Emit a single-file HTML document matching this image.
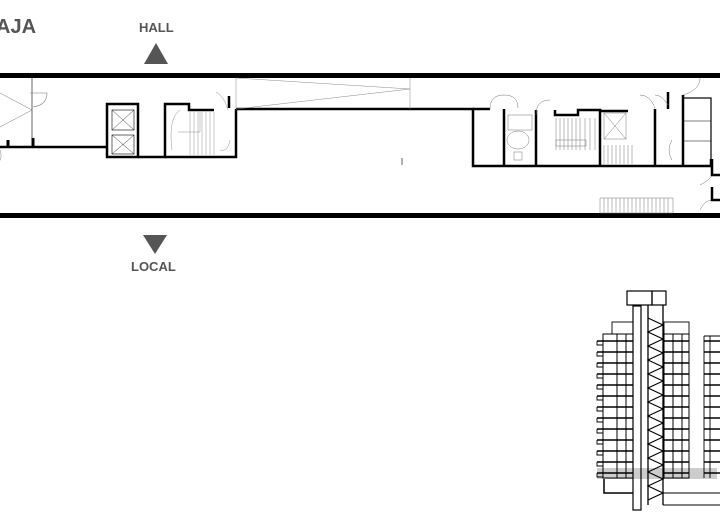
<!DOCTYPE html>
<html><head><meta charset="utf-8"><style>
html,body{margin:0;padding:0;background:#fff;width:720px;height:532px;overflow:hidden}
svg{display:block}
text{font-family:"Liberation Sans",sans-serif;font-weight:bold;fill:#555}
</style></head><body>
<svg width="720" height="532" viewBox="0 0 720 532" xmlns="http://www.w3.org/2000/svg">
<text x="-4" y="33" font-size="20">AJA</text>
<text x="139" y="32" font-size="13">HALL</text>
<polygon points="144,64 168,64 156,43" fill="#555"/>
<polygon points="143,235 167,235 155,254" fill="#555"/>
<text x="131" y="271" font-size="13">LOCAL</text>

<g stroke="#000" fill="none">
<rect x="0" y="73" width="720" height="5" fill="#000" stroke="none"/>
<rect x="0" y="213" width="720" height="5" fill="#000" stroke="none"/>
<path d="M0,147 H107" stroke-width="2.5"/>
<path d="M8,140 V147 M33,138 V147" stroke-width="3"/>
<path d="M32,78 V140" stroke-width="0.6"/>
<path d="M0,93 L32,110 L0,127" stroke-width="0.5" stroke="#777"/>
<path d="M30,93 H47 Q47,105 33,107" stroke-width="0.6" stroke="#777"/>
<path d="M0,150 Q3,158 -2,163" stroke-width="0.5" stroke="#777"/>
<rect x="107" y="104" width="31" height="53" stroke-width="2.5"/>
<rect x="112" y="110" width="22" height="20" stroke-width="0.6"/>
<path d="M112,110 L134,130 M134,110 L112,130" stroke-width="0.4"/>
<rect x="112" y="135" width="22" height="19" stroke-width="0.6"/>
<path d="M112,135 L134,154 M134,135 L112,154" stroke-width="0.4"/>
<path d="M138,157 H165 V104 H189 V110 H214" stroke-width="2.5"/>
<path d="M229,108 V96 M236,109 V157 H165" stroke-width="2.5"/>
<g stroke-width="0.4" stroke="#777">
<path d="M190,112 V155 M194,112 V155 M198,112 V155 M202,112 V155 M206,112 V155 M210,112 V155 M214,112 V155"/>
<path d="M178,132 H200 V112"/>
<path d="M180,110 Q168,118 172,150 M216,92 Q224,96 228,110 M220,150 Q228,152 230,140"/>
</g>
<path d="M236,109 H473 V166 H711 V159" stroke-width="2.5"/>
<path d="M236,78 V109 M410,78 V109" stroke-width="0.5" stroke="#888"/>
<path d="M236,78 L410,89 L236,109" stroke-width="0.5" stroke="#888"/>
<path d="M402,158 V165" stroke-width="1" stroke="#666"/>
<path d="M473,109 H490 M504,109 V166 M536,110 V166 M555,110 V115 H578 V110 H600 V166 M600,111 H628 M655,109 V166 M668,109 V92 M683,95 V166" stroke-width="2.5"/>
<rect x="683" y="98" width="28" height="68" stroke-width="1.2"/>
<path d="M683,121 H711 M683,141 H711" stroke-width="0.6"/>
<g stroke-width="0.5" stroke="#777">
<path d="M490,109 Q490,95 504,95 M504,95 Q518,95 518,108 M536,115 Q536,100 550,100 M640,95 Q650,95 655,108 M655,95 Q662,95 668,105 M700,78 Q700,90 683,95"/>
<rect x="508" y="115" width="24" height="15"/>
<ellipse cx="518" cy="140" rx="11" ry="9"/>
<rect x="514" y="152" width="8" height="8"/>
<path d="M556,118 V150 M560,118 V150 M564,118 V150 M568,118 V150 M572,118 V150 M576,118 V150 M580,118 V150 M585,118 V150 M590,118 V150 M595,118 V150"/>
<rect x="556" y="140" width="30" height="6"/>
<rect x="604" y="113" width="22" height="26"/>
<path d="M604,113 L626,139 M626,113 L604,139"/>
<path d="M604,145 V164 M608,145 V164 M612,145 V164 M616,145 V164 M620,145 V164 M624,145 V164 M628,145 V164 M632,145 V164"/>
<path d="M672,140 Q666,150 672,160 M700,185 Q710,180 712,175 M700,210 Q705,200 712,200"/>
<path d="M600,198 H673 V213 H600 Z M604,198 V213 M608,198 V213 M612,198 V213 M616,198 V213 M620,198 V213 M624,198 V213 M628,198 V213 M632,198 V213 M636,198 V213 M640,198 V213 M644,198 V213 M648,198 V213 M652,198 V213 M656,198 V213 M660,198 V213 M664,198 V213 M668,198 V213"/>
</g>
<path d="M712,159 V175 H720 M712,187 V200 H720" stroke-width="2.5"/>
</g>

<g stroke="#000" fill="none" stroke-width="0.9">
<rect x="597" y="468" width="120" height="11" fill="#ccc" stroke="none"/>
<rect x="627" y="291" width="25" height="14" stroke-width="1.2"/>
<rect x="652" y="291" width="14" height="14" stroke-width="1.2"/>
<rect x="633" y="306" width="8" height="204" stroke-width="1.2"/>
<path d="M648,305 V505 M663,305 V505" stroke-width="1.3"/>
<path d="M648,318 L663,325 L648,332 L663,339 L648,346 L663,353 L648,360 L663,367 L648,374 L663,381 L648,388 L663,395 L648,402 L663,409 L648,416 L663,423 L648,430 L663,437 L648,444 L663,451 L648,458 L663,465 L648,472 L663,479 L648,486 L663,493 L648,500" stroke-width="1.1"/>
<rect x="612" y="322" width="21" height="12"/>
<rect x="664" y="322" width="25" height="12"/>
<path d="M603,334 H633 V478 H603 Z M617,334 V478 M626,334 V478" stroke-width="1"/>
<path d="M664,334 H689 V478 H664 Z M673,334 V478 M682,334 V478" stroke-width="1"/>
<path d="M704,336 H720 M704,336 V478 M710,336 V478"/>
<g stroke-width="1.6">
<path d="M597,341 H633 M597,352 H633 M597,363 H633 M597,374 H633 M597,385 H633 M597,396 H633 M597,407 H633 M597,418 H633 M597,429 H633 M597,440 H633 M597,451 H633 M597,462 H633 M597,473 H633"/>
<path d="M664,341 H689 M664,352 H689 M664,363 H689 M664,374 H689 M664,385 H689 M664,396 H689 M664,407 H689 M664,418 H689 M664,429 H689 M664,440 H689 M664,451 H689 M664,462 H689 M664,473 H689"/>
<path d="M704,341 H720 M704,352 H720 M704,363 H720 M704,374 H720 M704,385 H720 M704,396 H720 M704,407 H720 M704,418 H720 M704,429 H720 M704,440 H720 M704,451 H720 M704,462 H720 M704,473 H720"/>
</g>
<path d="M597,341 V345 H603 M597,352 V356 H603 M597,363 V367 H603 M597,374 V378 H603 M597,385 V389 H603 M597,396 V400 H603 M597,407 V411 H603 M597,418 V422 H603 M597,429 V433 H603 M597,440 V444 H603 M597,451 V455 H603 M597,462 V466 H603 M597,473 V477 H603"/>
<path d="M604,479 V493 H633" stroke-width="1.5"/>
<path d="M663,493 H720 M663,505 H720"/>
</g>
</svg>
</body></html>
